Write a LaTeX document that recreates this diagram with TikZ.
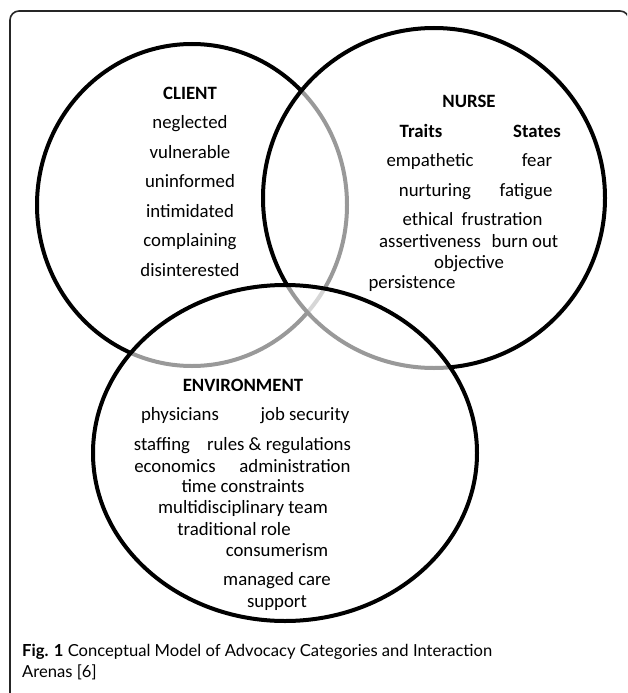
\documentclass[tikz,border=0pt]{standalone}
\usepackage{fontspec}
\setmainfont{Carlito}
\newfontfamily\capfont{Lato}
\newcommand\diag{\fontsize{18.8}{22}\selectfont}
\newcommand\capsize{\fontsize{16.6}{20}\selectfont}
\tikzset{
  lbl/.style={anchor=base, inner sep=0pt},
  ring/.style={line width=4pt, draw=black},
  veil/.style={fill=white, fill opacity=0.6},
}
\begin{document}
\begin{tikzpicture}[x=1pt, y=-1pt, font=\diag, line join=round, line cap=round]
		\def\cx{192} \def\cy{205}
		\def\nx{434} \def\ny{198}
		\def\ex{285} \def\ey{453}
		\useasboundingbox (0,0) rectangle (627,693);
		\clip (0,0) rectangle (627,693);
		\draw[line width=1.6pt, color=black!85, rounded corners=9pt] (10,11) rectangle (629,720);
		% client below, nurse and environment veil the lines beneath them
		\draw[ring] (\cx,\cy) ellipse [x radius=155pt, y radius=161pt];
		\fill[veil] (\nx,\ny) ellipse [x radius=171pt, y radius=170pt];
		\draw[ring] (\nx,\ny) ellipse [x radius=171pt, y radius=170pt];
		\fill[veil] (\ex,\ey) ellipse [x radius=192pt, y radius=168pt];
		\draw[ring] (\ex,\ey) ellipse [x radius=192pt, y radius=168pt];
		% client
		\node (client) at (190,99) [lbl] {\bfseries CLIENT};
		\foreach \w [count=\i] in {neglected,vulnerable,uninformed,intimidated,complaining,disinterested}
			\node (c\i) at (190,{99+29.5*\i}) [lbl] {\w};
		% nurse
		\node (nurse) at (469,107) [lbl] {\bfseries NURSE};
		\node (traits) at (421,137) [lbl] {\bfseries Traits};
		\node (states) at (537,137) [lbl] {\bfseries States};
		\node (empa) at (430,166) [lbl] {empathetic};
		\node (fear) at (537,166) [lbl] {fear};
		\node (nurt) at (435,196) [lbl] {nurturing};
		\node (fati) at (526,196) [lbl] {fatigue};
		\node (ethi) at (428,225) [lbl] {ethical};
		\node (frus) at (502,225) [lbl] {frustration};
		\node (asse) at (430,247) [lbl] {assertiveness};
		\node (burn) at (525,247) [lbl] {burn out};
		\node (obje) at (469,268) [lbl] {objective};
		\node (pers) at (412,288) [lbl] {persistence};
		% environment
		\node (env) at (243,391) [lbl] {\bfseries ENVIRONMENT};
		\node (phys) at (180,420) [lbl] {physicians};
		\node (jobs) at (305,420) [lbl] {job security};
		\node (staf) at (162,450) [lbl] {staffing};
		\node (rule) at (279,450) [lbl] {rules \& regulations};
		\node (econ) at (175,472) [lbl] {economics};
		\node (admi) at (295,472) [lbl] {administration};
		\node (time) at (243,492) [lbl] {time constraints};
		\node (mult) at (243,513) [lbl] {multidisciplinary team};
		\node (trad) at (234,535) [lbl] {traditional role};
		\node (cons) at (277,556) [lbl] {consumerism};
		\node (mana) at (277,585) [lbl] {managed care};
		\node (supp) at (277,607) [lbl] {support};
		% caption
		\node (cap1) at (22,656) [anchor=base west, inner sep=0pt, font=\capfont\capsize] {\textbf{Fig. 1} Conceptual Model of Advocacy Categories and Interaction};
		\node (cap2) at (22,677) [anchor=base west, inner sep=0pt, font=\capfont\capsize] {Arenas [6]};
\end{tikzpicture}
\end{document}
